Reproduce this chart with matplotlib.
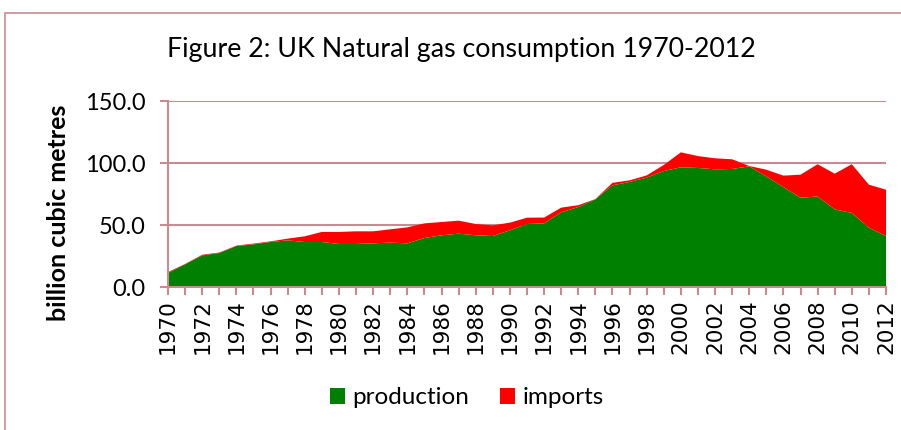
import matplotlib.pyplot as plt
import numpy as np
from matplotlib.patches import Rectangle
from matplotlib.ticker import MultipleLocator, FormatStrFormatter

# UK natural gas, billion cubic metres
years = list(range(1970, 2013))
production = [11.3, 18.3, 25.5, 27.4, 33.0, 34.4, 36.3, 37.6, 36.3, 36.3,
              34.7, 34.7, 35.2, 35.8, 35.2, 39.5, 41.7, 43.0, 41.7, 41.1,
              45.7, 50.8, 51.3, 60.2, 64.5, 70.7, 82.0, 84.7, 88.2, 93.5,
              96.5, 96.0, 94.9, 95.2, 97.3, 89.2, 80.6, 72.0, 73.0, 62.6,
              59.7, 47.8, 41.1]
total = [12.0, 18.6, 26.0, 27.8, 33.4, 35.0, 36.8, 39.0, 40.9, 44.4,
         44.4, 44.9, 44.9, 46.5, 48.1, 51.3, 52.4, 53.5, 50.8, 49.7,
         51.9, 55.9, 56.0, 64.0, 66.0, 70.9, 84.0, 86.0, 90.0, 98.4,
         108.6, 105.6, 103.8, 103.0, 97.6, 94.6, 89.8, 90.6, 99.0, 91.4,
         99.0, 82.5, 78.5]
imports = [round(t - p, 1) for t, p in zip(total, production)]

pink = '#C98A92'
green = '#008000'
red = '#FF0000'

fig = plt.figure(figsize=(9.01, 4.30), dpi=100)
fig.add_artist(Rectangle((5 / 901, -0.1), 1.2, (430 - 13) / 430 + 0.1,
                         transform=fig.transFigure, fill=False,
                         edgecolor=pink, linewidth=1.2))

ax = fig.add_axes([168 / 901, 143 / 430, 718 / 901, 186 / 430])
ax.stackplot(years, production, imports, colors=[green, red],
             labels=['production', 'imports'], zorder=2)

ax.set_xlim(1970, 2012)
ax.set_ylim(0, 150)
ax.yaxis.set_major_locator(MultipleLocator(50))
ax.yaxis.set_major_formatter(FormatStrFormatter('%.1f'))
ax.xaxis.set_major_locator(MultipleLocator(2))
ax.xaxis.set_minor_locator(MultipleLocator(1))
ax.xaxis.set_major_formatter(FormatStrFormatter('%d'))

ax.grid(axis='y', color=pink, linewidth=1.5, zorder=1)
for s in ['top', 'right']:
    ax.spines[s].set_visible(False)
for s in ['left', 'bottom']:
    ax.spines[s].set_color(pink)
    ax.spines[s].set_linewidth(1.5)
    ax.spines[s].set_zorder(3)

ax.tick_params(axis='x', which='both', direction='out', length=6,
               width=1.5, color=pink, labelrotation=90, labelsize=15.5,
               pad=3)
ax.tick_params(axis='y', direction='out', length=6, width=1.5, color=pink,
               labelsize=17, pad=10)
for lbl in ax.get_yticklabels():
    lbl.set_fontfamily('Lato')

ax.set_ylabel('billion cubic metres', fontsize=18, fontweight='bold',
              family='Lato')
ax.yaxis.set_label_coords(-0.137, 0.40)

fig.text(0.512, 0.884, 'Figure 2: UK Natural gas consumption 1970-2012',
         ha='center', va='center', fontsize=19.3, family='Lato')

fig.legend(loc='center', bbox_to_anchor=(0.518, (430 - 398) / 430),
           ncol=2, frameon=False, prop={'family': 'Lato', 'size': 17.5},
           handlelength=0.6, handleheight=0.6, handletextpad=0.3,
           columnspacing=1.3)

fig.savefig('out.png', dpi=100)
